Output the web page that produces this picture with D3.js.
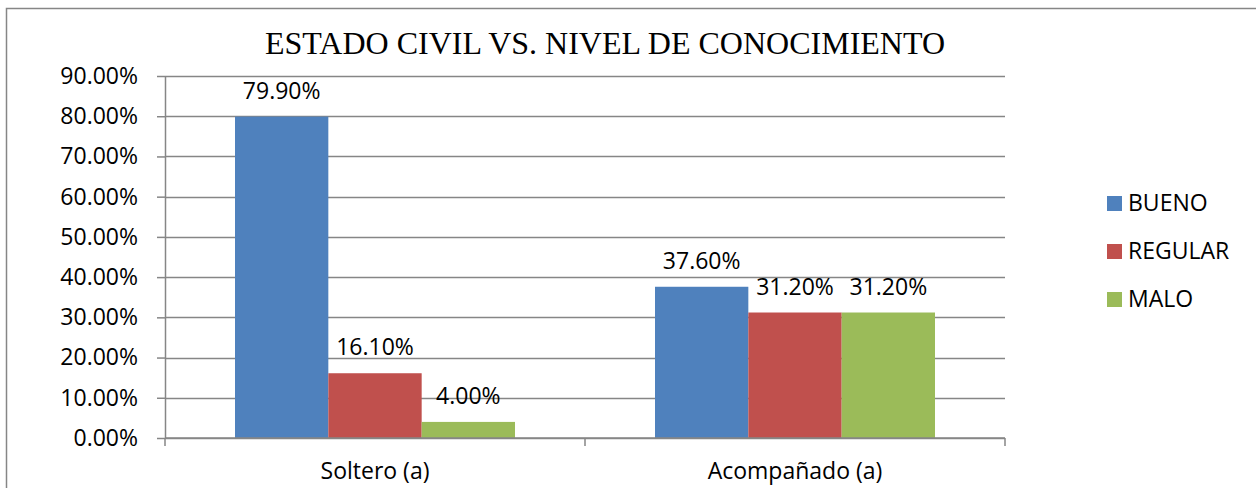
<!DOCTYPE html>
<html>
<head>
<meta charset="utf-8">
<script src="https://cdn.jsdelivr.net/npm/d3@7"></script>
<style>
  body { margin: 0; background: #fff; }
  svg { display: block; }
</style>
</head>
<body>
<svg id="drawing_region"></svg>
<script>
const categories = ['Soltero (a)', 'Acompañado (a)']
const series = ['BUENO', 'REGULAR', 'MALO']
const bueno = [0.799, 0.376]
const regular = [0.161, 0.312]
const malo = [0.04, 0.312]
const yticks = [0, 0.1, 0.2, 0.3, 0.4, 0.5, 0.6, 0.7, 0.8, 0.9]
const colors = ['#4F81BD', '#C0504D', '#9BBB59']

const W = 1256, H = 488
const margin = {top: 76, left: 165, right: 251, bottom: 50}
const font = '"Open Sans", "Noto Sans", sans-serif'
const fsize = 23
const grey = '#868686'

const svg = d3.select('#drawing_region').attr('width', W).attr('height', H)

// outer frame
svg.append('rect')
  .attr('x', 6.5).attr('y', 8.5)
  .attr('width', W).attr('height', H)
  .attr('fill', 'none').attr('stroke', grey).attr('stroke-width', 1.5)

const x0 = d3.scaleBand().domain(categories).range([margin.left, W - margin.right]).padding(0)
const x1 = d3.scaleBand().domain(series).range([0, x0.bandwidth()]).paddingInner(0).paddingOuter(0.75)
const y = d3.scaleLinear().domain([0, 0.9]).range([H - margin.bottom, margin.top])

const data = categories.map((c, i) => ({
  cat: c,
  values: [bueno[i], regular[i], malo[i]].map((v, j) => ({key: series[j], value: v, color: colors[j]}))
}))

// gridlines
svg.append('g').selectAll('line').data(yticks).enter().append('line')
  .attr('x1', margin.left).attr('x2', W - margin.right)
  .attr('y1', d => Math.round(y(d)) + 0.5).attr('y2', d => Math.round(y(d)) + 0.5)
  .attr('stroke', grey).attr('stroke-width', 1.5)

// bars
const groups = svg.append('g').selectAll('g').data(data).enter().append('g')
  .attr('transform', d => `translate(${x0(d.cat)},0)`)

groups.selectAll('rect').data(d => d.values).enter().append('rect')
  .attr('x', d => x1(d.key))
  .attr('y', d => y(d.value))
  .attr('width', x1.bandwidth())
  .attr('height', d => y(0) - y(d.value))
  .attr('fill', d => d.color)

groups.selectAll('text').data(d => d.values).enter().append('text')
  .attr('x', d => x1(d.key) + x1.bandwidth() / 2)
  .attr('y', d => y(d.value) - 18)
  .attr('text-anchor', 'middle')
  .attr('font-family', font).attr('font-size', fsize)
  .attr('fill', '#000')
  .text(d => d3.format('.2%')(d.value))

// y axis
const yaxis = d3.axisLeft(y).tickValues(yticks).tickFormat(d3.format('.2%')).tickSizeInner(8).tickSizeOuter(0).tickPadding(19)
const yg = svg.append('g').attr('transform', `translate(${margin.left},0)`).call(yaxis)
yg.selectAll('path, line').attr('stroke', grey).attr('stroke-width', 1.5)
yg.selectAll('text').attr('font-family', font).attr('font-size', fsize).attr('fill', '#000')

// x axis
const xg = svg.append('g').attr('transform', `translate(0,${y(0)})`)
xg.append('line')
  .attr('x1', margin.left).attr('x2', W - margin.right)
  .attr('stroke', grey).attr('stroke-width', 1.5)
const xticks = categories.map(c => x0(c)).concat([x0(categories[categories.length - 1]) + x0.bandwidth()])
xg.selectAll('.xtick').data(xticks).enter().append('line')
  .attr('x1', d => d).attr('x2', d => d).attr('y1', 0).attr('y2', 8)
  .attr('stroke', grey).attr('stroke-width', 1.5)
xg.selectAll('text').data(categories).enter().append('text')
  .attr('x', d => x0(d) + x0.bandwidth() / 2)
  .attr('y', 41)
  .attr('text-anchor', 'middle')
  .attr('font-family', font).attr('font-size', fsize)
  .text(d => d)

// title
svg.append('text')
  .attr('x', 605).attr('y', 54)
  .attr('text-anchor', 'middle')
  .attr('font-family', '"Liberation Serif", "Times New Roman", serif')
  .attr('font-size', 32)
  .text('ESTADO CIVIL VS. NIVEL DE CONOCIMIENTO')

// legend
const legend = svg.append('g').selectAll('g').data(series).enter().append('g')
  .attr('transform', (d, i) => `translate(1107,${196 + i * 48})`)
legend.append('rect').attr('width', 15).attr('height', 15).attr('fill', (d, i) => colors[i])
legend.append('text')
  .attr('x', 21).attr('y', 15)
  .attr('font-family', font).attr('font-size', fsize)
  .text(d => d)
</script>
</body>
</html>
